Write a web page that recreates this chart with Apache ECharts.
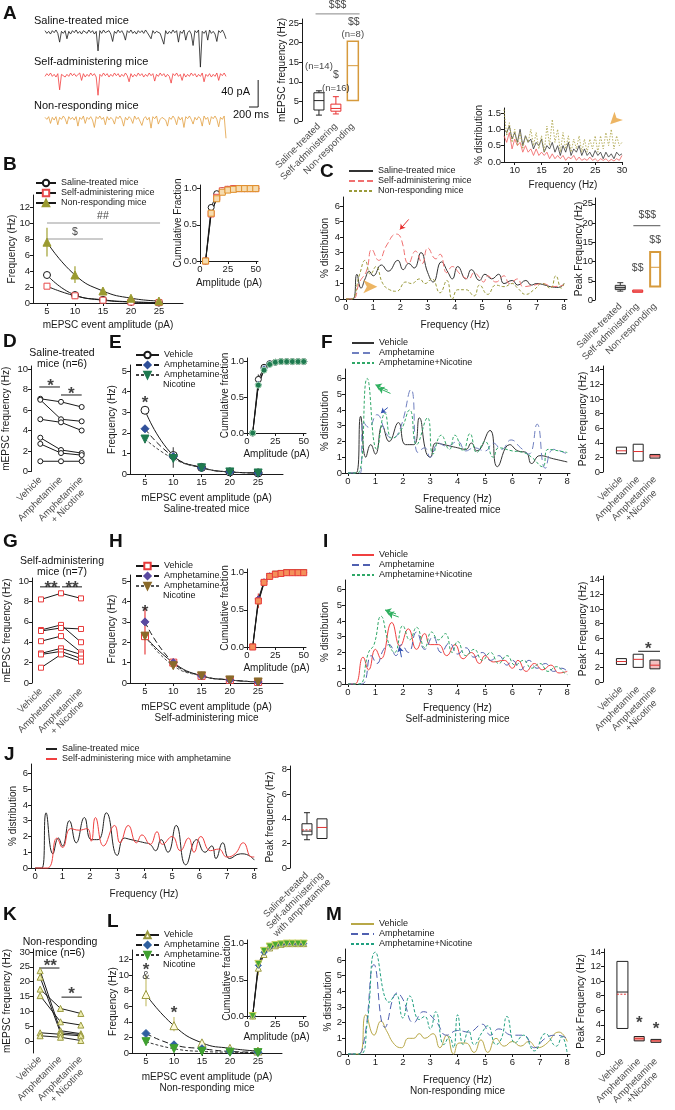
<!DOCTYPE html>
<html><head><meta charset="utf-8"><title>mEPSC figure</title>
<script src="https://cdn.jsdelivr.net/npm/echarts@6/dist/echarts.min.js"></script>
<style>html,body{margin:0;padding:0;background:#fff;}#chart{width:675px;height:1110px;}</style>
</head><body><div id="chart"></div>
<script>
// ======================= DATA =======================
// Panel A: raw traces (pA, one sample per 40 ms)
const traceSaline = [2,-2,1,-3,2,-1,3,-2,-15,1, -2,2,-10,1,-3,2,-1,3,-2,1, -3,2,0,-2,3,-1,2,-3,1,-28, 2,-2,3,-1,-2,2,-3,-14,1,-2, 3,-1,2,-3,-12,2,-1,3,-2,1, -3,2,-1,2,-2,3,-1,-3,-10,2, -2,1,3,-2,-1,-18,2,-3,1,-2, 3,-1,2,-15,1,-2,3,-12,-1,2, -3,-20,2,-1,3,-52,1,-2,2,-12, 3,-2,1,-3,-14,2,-1,3,-2,-10];
const traceSelfAdmin = [-2,2,-1,3,-2,1,-3,2,-22,1, 2,-3,1,-2,3,-1,2,-2,-1,3, -8,2,-3,1,-2,3,-1,2,-3,-30, 1,-2,3,-1,2,-3,1,-2,3,-1, 2,-3,1,-2,3,-1,-10,2,-3,1, -2,3,-1,2,-3,1,-2,3,-1,2, -9,1,-2,3,-1,2,-3,1,-2,-12, 2,-1,3,-2,1,-8,2,-3,1,-2, 3,-1,2,-3,1,-2,3,-10,1,-2, 2,-3,1,-2,3,-8,2,-1,3,-2];
const traceNonResp = [1,-2,2,-8,1,-3,2,-10,1,-2, 3,-1,-9,2,-2,1,-3,2,-12,1, -2,3,-8,1,-2,2,-3,-14,2,-1, 3,-2,1,-10,2,-3,1,-2,-9,2, -1,3,-2,-12,1,-3,2,-1,-8,3, -2,1,3,-11,-1,2,-3,1,-15,2, -1,3,-9,-2,1,2,-3,-12,1,-2, 3,-1,-10,2,-3,1,-14,2,-1,3, -2,-9,1,-3,2,-1,-12,3,-2,1, -10,2,-1,3,-2,-13,1,-2,3,-30];
const scaleBarMs = 200, scaleBarPa = 40, sampleMs = 40;
const groupCats = ['Saline-treated','Self-administering','Non-responding'];
const boxA = [[1.5,2.8,5.2,7.2,7.7],[1.8,2.5,3.2,4.3,6.2],[null,5.2,14.1,20.3,null]];

// Panel C inset: 8-30 Hz spectrum
const insetFreq = [8,8.5,9,9.5,10,10.5,11,11.5,12,12.5,13,13.5,14,14.5,15,15.5,16,16.5,17,17.5,18,18.5,19,19.5,20,20.5,21,21.5,22,22.5,23,23.5,24,24.5,25,25.5,26,26.5,27,27.5,28,28.5,29,29.5,30];
const insetSaline = [1.0,0.9,1.1,0.7,0.9,0.6,1.0,0.5,0.8,0.6,0.7,0.4,0.6,0.5,0.7,0.3,0.5,0.4,0.6,0.3,0.5,0.2,0.5,0.3,0.6,0.2,0.4,0.3,0.5,0.2,0.4,0.2,0.3,0.15,0.35,0.2,0.3,0.1,0.3,0.15,0.25,0.1,0.3,0.2,0.25];
const insetSelf = [0.8,0.6,0.9,0.4,0.7,0.5,0.6,0.3,0.5,0.3,0.4,0.2,0.4,0.2,0.3,0.2,0.3,0.1,0.25,0.1,0.2,0.1,0.2,0.05,0.15,0.1,0.2,0.05,0.15,0.05,0.1,0.05,0.15,0.05,0.1,0.02,0.1,0.05,0.1,0.02,0.08,0.03,0.1,0.05,0.2];
const insetNon = [1.6,0.8,1.2,0.6,1.0,0.5,0.9,0.4,0.8,0.6,1.0,0.5,0.9,0.4,0.8,0.3,1.1,0.5,1.3,0.6,1.0,0.3,0.9,0.4,0.8,0.3,0.7,0.4,0.8,0.3,0.7,0.3,0.7,0.4,0.8,0.3,0.8,0.4,0.9,0.5,1.0,0.4,0.8,0.5,0.6];

// Amplitude distributions
const amps = [5,10,15,20,25];
const cumAmps = [5,10,15,20,25,30,35,40,45,50];
const bSaline = [3.5,1.0,0.4,0.15,0.05];
const bSelf = [2.1,0.9,0.35,0.12,0.05];
const bNon = [7.6,3.5,1.5,0.6,0.25];
const bNonLo = [5.8,2.5,1.2,0.45,0.15];
const bNonHi = [9.4,4.6,1.8,0.75,0.35];
const bCumSaline = [0,0.74,0.93,0.97,0.99,1,1,1,1,1];
const bCumSelf = [0,0.65,0.88,0.97,0.99,1,1,1,1,1];
const bCumNon = [0,0.66,0.86,0.95,0.98,0.99,1,1,1,1];

// Panel C spectra (Hz, %)
const cSaline = [[0,0],[0.25,0],[0.4,1.6],[0.55,0.7],[0.7,1.3],[0.85,1.8],[1.0,1.5],[1.3,2.2],[1.55,1.8],[1.9,2.5],[2.1,1.9],[2.3,2.3],[2.5,2.0],[2.75,3.0],[3.0,1.7],[3.2,1.1],[3.5,2.4],[3.75,1.7],[3.9,1.3],[4.1,2.1],[4.4,1.3],[4.6,1.9],[4.9,1.2],[5.1,1.6],[5.35,1.3],[5.6,1.6],[5.8,1.0],[6.1,1.2],[6.3,0.9],[6.6,1.2],[6.8,0.9],[7.0,1.0],[7.3,0.9],[7.5,0.8],[7.8,0.75],[8.0,1.0]];
const cSelf = [[0,0],[0.25,0],[0.5,1.1],[0.75,1.8],[0.95,3.2],[1.2,2.5],[1.5,3.5],[1.85,4.2],[2.0,4.0],[2.3,2.3],[2.55,3.1],[2.8,2.3],[3.0,3.3],[3.3,2.6],[3.45,2.9],[3.7,1.7],[3.9,2.1],[4.2,1.6],[4.5,1.3],[4.7,1.7],[4.9,1.4],[5.05,1.1],[5.2,1.5],[5.5,1.1],[5.8,1.5],[6.0,1.0],[6.3,1.3],[6.5,0.8],[6.9,0.9],[7.2,1.0],[7.6,0.8],[8.0,0.9]];
const cNon = [[0,0],[0.2,0],[0.5,1.6],[0.7,2.5],[0.9,1.6],[1.1,2.1],[1.35,1.0],[1.6,0.6],[1.85,0.5],[2.2,1.1],[2.4,1.0],[2.7,1.3],[2.9,1.0],[3.15,1.3],[3.45,0.4],[3.7,1.2],[3.9,0.0],[4.1,0.6],[4.4,0.6],[4.7,0.2],[4.9,0.9],[5.2,0.3],[5.5,0.9],[5.8,0.8],[6.1,1.0],[6.3,0.7],[6.6,0.3],[6.9,0.6],[7.2,1.0],[7.5,0.7],[7.7,1.5],[7.9,0.7],[8.0,1.0]];
const boxC = [[2.3,2.7,3.2,3.8,4.5],[null,2.0,2.3,2.6,null],[null,3.5,8.5,12.5,null]];

// Panels D, G, K: paired mice
const treatCats = ['Vehicle','Amphetamine','Amphetamine\n+ Nicotine'];
const treatCatsBox = ['Vehicle','Amphetamine','Amphetamine\n+Nicotine'];
const dMice = [[7.1,6.8,6.3],[7.0,5.1,4.9],[5.1,4.8,4.0],[3.3,2.1,1.8],[2.7,1.8,1.6],[1.0,1.0,1.0]];
const gMice = [[8.2,8.8,8.3],[5.2,5.7,4.0],[5.1,5.4,5.3],[4.1,4.6,3.0],[2.9,3.4,2.8],[2.8,3.1,2.4],[1.5,2.8,2.1]];
const kMice = [[23.7,3.5,2.5],[21.5,2.8,2.2],[17.5,11.0,9.3],[15.3,6.5,5.4],[2.8,2.3,1.8],[1.8,1.3,0.2]];

// Panel E (saline-treated)
const eVeh = [3.1,0.9,0.32,0.1,0.05];
const eAmph = [2.2,0.85,0.3,0.1,0.05];
const eNic = [1.7,0.75,0.3,0.1,0.05];
const eVehLo = [2.9,0.7,0.25,0.08,0.04], eVehHi = [3.3,1.1,0.38,0.12,0.06];
const eNicLo = [1.5,0.3,0.25,0.08,0.04], eNicHi = [1.9,1.3,0.35,0.12,0.06];
const eCumVeh = [0,0.75,0.92,0.97,0.99,1,1,1,1,1];
const eCumAmph = [0,0.68,0.9,0.97,0.99,1,1,1,1,1];
const eCumNic = [0,0.67,0.88,0.96,0.99,1,1,1,1,1];

// Panel F spectra (saline-treated)
const fVeh = [[0,0],[0.3,0],[0.46,3.6],[0.65,1.0],[0.83,1.8],[1.0,1.2],[1.25,3.0],[1.5,2.0],[1.84,3.2],[2.1,1.8],[2.4,1.8],[2.6,3.5],[2.85,1.3],[3.0,1.0],[3.2,1.9],[3.5,1.8],[4.0,1.6],[4.3,1.5],[4.5,1.9],[4.7,1.4],[5.18,2.7],[5.45,0.4],[5.9,1.8],[6.2,1.4],[6.5,1.3],[6.7,0.6],[7.0,1.1],[7.5,0.9],[8.0,0.7]];
const fAmph = [[0,0],[0.45,0],[0.55,3.3],[0.75,2.9],[1.05,3.7],[1.4,2.5],[1.6,2.2],[1.9,2.8],[2.3,5.3],[2.55,1.3],[2.8,1.6],[3.0,1.0],[3.3,1.9],[3.6,1.7],[4.0,2.0],[4.3,1.4],[4.6,1.6],[5.0,1.4],[5.3,1.9],[5.6,1.5],[5.95,2.1],[6.3,1.6],[6.6,1.2],[6.9,3.1],[7.2,0.3],[7.5,1.5],[8.0,1.2]];
const fNic = [[0,0],[0.35,0],[0.7,6.0],[1.05,1.5],[1.35,3.8],[1.6,2.2],[1.9,2.6],[2.25,4.0],[2.5,1.8],[2.9,3.5],[3.1,1.2],[3.4,2.4],[3.7,1.5],[3.9,2.4],[4.2,1.4],[4.45,2.5],[4.7,1.3],[5.0,2.0],[5.3,1.0],[5.5,1.6],[6.0,1.4],[6.4,1.3],[6.7,1.0],[7.1,0.4],[7.3,1.5],[7.7,1.4],[8.0,1.3]];
const boxF = [[null,2.5,2.9,3.4,null],[null,1.5,2.8,3.8,null],[null,1.9,2.2,2.4,null]];

// Panel H (self-administering)
const hVeh = [2.3,1.0,0.35,0.15,0.05];
const hAmph = [3.0,1.0,0.35,0.15,0.05];
const hNic = [2.3,0.85,0.35,0.15,0.05];
const hErrLo = [1.4,0.75,0.3,0.12,0.04], hErrHi = [3.7,1.2,0.42,0.18,0.07];
const hCumVeh = [0,0.62,0.87,0.95,0.98,0.99,1,1,1,1];
const hCumAmph = [0,0.65,0.88,0.96,0.98,0.99,1,1,1,1];
const hCumNic = [0,0.6,0.86,0.95,0.98,0.99,1,1,1,1];

// Panel I spectra (self-administering)
const iVeh = [[0,0],[0.25,0],[0.55,1.7],[0.75,0.9],[1.0,2.2],[1.2,1.6],[1.6,3.9],[1.9,2.4],[2.2,3.5],[2.5,2.2],[2.8,3.2],[3.0,2.5],[3.3,2.5],[3.6,1.8],[3.9,2.5],[4.2,1.6],[4.5,2.0],[4.8,1.3],[5.0,1.8],[5.3,1.4],[5.7,1.5],[6.0,1.0],[6.2,1.5],[6.5,0.8],[6.8,1.3],[7.1,0.9],[7.4,1.2],[7.7,0.7],[8.0,0.8]];
const iAmph = [[0,0],[0.5,0],[0.85,1.8],[1.05,1.3],[1.3,2.2],[1.5,2.5],[1.75,1.8],[1.95,2.5],[2.2,2.0],[2.5,3.3],[2.8,2.2],[3.1,3.0],[3.4,2.0],[3.7,2.6],[4.0,1.9],[4.3,2.3],[4.6,1.7],[4.9,2.0],[5.2,1.5],[5.5,1.8],[5.8,1.2],[6.0,1.5],[6.3,0.9],[6.6,1.5],[6.9,1.0],[7.2,1.3],[7.5,0.8],[7.8,1.0],[8.0,0.8]];
const iNic = [[0,0],[0.4,0],[0.75,2.0],[0.95,2.5],[1.2,4.3],[1.5,2.5],[1.7,2.0],[2.0,3.7],[2.25,2.8],[2.5,3.6],[2.8,2.3],[3.05,3.3],[3.3,2.8],[3.55,3.2],[3.8,2.0],[4.0,2.7],[4.3,1.8],[4.6,2.2],[4.9,1.5],[5.2,2.0],[5.5,1.3],[5.8,1.8],[6.1,1.2],[6.4,1.5],[6.7,1.0],[7.0,1.3],[7.3,0.8],[7.6,1.1],[7.9,0.7],[8.0,0.6]];
const boxI = [[null,2.4,2.8,3.2,null],[null,2.0,3.1,3.8,null],[null,1.8,2.3,3.0,null]];

// Panel J
const jCats = ['Saline-treated','Self-administering\nwith amphetamine'];
const jSaline = [[0,0],[0.25,0],[0.4,3.5],[0.65,0.9],[0.85,1.9],[1.0,1.4],[1.25,3.0],[1.5,1.6],[1.8,3.2],[2.05,1.8],[2.3,1.8],[2.6,3.5],[3.0,0.8],[3.25,1.9],[3.5,1.8],[4.0,1.6],[4.2,1.5],[4.4,1.1],[4.6,1.8],[4.85,1.0],[5.15,2.7],[5.5,0.2],[5.9,1.8],[6.2,1.0],[6.45,1.4],[6.6,0.6],[6.85,1.6],[7.1,0.6],[7.5,0.9],[7.8,0.8],[8.0,0.5]];
const jSelfAmph = [[0,0],[0.45,0],[0.8,1.9],[1.0,1.3],[1.3,2.5],[1.6,2.4],[1.9,2.5],[2.05,1.7],[2.2,3.2],[2.5,1.4],[2.9,2.7],[3.1,1.6],[3.4,2.7],[3.7,1.6],[3.9,2.1],[4.2,1.5],[4.45,2.3],[4.65,1.5],[5.0,2.0],[5.3,1.1],[5.6,1.9],[5.8,1.0],[6.05,2.0],[6.4,1.1],[6.7,1.2],[7.0,0.7],[7.3,0.9],[7.6,1.6],[7.9,0.7],[8.0,0.7]];
const boxJ = [[2.3,2.7,3.0,3.6,4.5],[null,2.4,3.3,4.0,null]];
const boxJMean = [3.1,null];

// Panel L (non-responding)
const lVeh = [7.5,3.5,1.3,0.6,0.25];
const lAmph = [2.5,1.05,0.55,0.2,0.1];
const lNic = [1.45,0.55,0.2,0.1,0.05];
const lVehLo = [6.0,2.8,1.0,0.45,0.18], lVehHi = [10.0,4.6,1.6,0.75,0.32];
const lCumVeh = [0,0.66,0.85,0.94,0.97,0.99,1,1,1,1];
const lCumAmph = [0,0.7,0.88,0.95,0.98,0.99,1,1,1,1];
const lCumNic = [0,0.72,0.9,0.96,0.98,0.99,1,1,1,1];

// Panel M spectra (non-responding)
const mVeh = [[0,0],[0.4,0],[0.65,2.5],[0.95,1.2],[1.2,2.1],[1.4,1.5],[1.7,0.6],[1.95,0.4],[2.2,1.0],[2.4,1.0],[2.6,1.3],[2.8,1.0],[3.1,1.3],[3.35,0.4],[3.6,1.2],[3.85,0.0],[4.05,0.7],[4.3,0.7],[4.6,0.1],[4.85,0.9],[5.1,0.1],[5.4,1.0],[5.7,0.5],[6.0,0.8],[6.3,0.5],[6.6,0.8],[6.9,0.4],[7.2,0.6],[7.7,1.4],[8.0,0.8]];
const mAmph = [[0,0],[0.35,0],[0.6,1.0],[0.95,5.7],[1.35,1.7],[1.8,3.9],[2.0,3.5],[2.4,2.0],[2.75,2.7],[3.2,2.1],[3.6,1.2],[4.0,1.5],[4.4,1.4],[4.9,1.9],[5.2,1.2],[5.5,1.6],[6.0,1.2],[6.4,1.2],[6.8,0.4],[7.2,1.0],[7.6,1.2],[8.0,1.0]];
const mNic = [[0,0],[0.45,0],[0.7,2.0],[1.0,6.5],[1.5,3.3],[1.75,3.8],[2.0,2.3],[2.25,3.7],[2.6,2.2],[2.8,2.4],[3.0,1.6],[3.2,2.7],[3.5,0.6],[3.7,1.1],[3.85,0.4],[4.0,2.5],[4.2,0.6],[4.4,1.5],[4.6,0.6],[4.9,1.4],[5.1,1.8],[5.4,0.6],[5.6,1.0],[5.8,2.4],[6.1,0.7],[6.4,1.2],[6.8,0.2],[7.2,1.3],[7.6,0.5],[7.8,1.1],[8.0,0.0]];
const boxM = [[null,3.5,8.5,12.7,null],[null,1.8,2.1,2.4,null],[null,1.6,1.8,2.0,null]];
const boxMMean = [8.2,null,null];

// ======================= BUILD =======================
const FONT = '"Liberation Sans", Arial, Helvetica, sans-serif';
const INK = '#1a1a1a';
const TICK_FS = 9.5, NAME_FS = 10, LEG_FS = 9, CAT_LH = 10;
const grids = [], gridInfo = [], xAxis = [], yAxis = [], series = [], legend = [], graphic = [];
const measureCtx = document.createElement('canvas').getContext('2d');
measureCtx.font = TICK_FS + 'px ' + FONT;

function axisCfg(o){
  const a = {
    type:'value', min:o.min, max:o.max, show:o.show !== false,
    splitLine:{show:false},
    axisLine:{show:o.line !== false, onZero:false, lineStyle:{color:INK, width:1}},
    axisTick:{show:!!o.ticks && !o.noTick, length:3, inside:false, lineStyle:{color:INK}},
    axisLabel:{show:!!o.ticks, fontSize:TICK_FS, color:INK, fontFamily:FONT, margin:(o.margin != null ? o.margin : 3),
      lineHeight:10, hideOverlap:false, showMinLabel:true, showMaxLabel:true},
    name:o.name || '', nameLocation:'middle', nameGap:o.gap || 15, nameMoveOverlap:false,
    nameTextStyle:{fontSize:NAME_FS, color:INK, fontFamily:FONT, lineHeight:11}
  };
  if (o.ticks){ a.axisLabel.customValues = o.ticks; a.axisTick.customValues = o.ticks; }
  if (o.fmt) a.axisLabel.formatter = o.fmt;
  return a;
}
function addGrid(left, top, width, height, xo, yo){
  grids.push({left, top, width, height, containLabel:false});
  gridInfo.push({left, top, width, height, xmin:xo.min, xmax:xo.max, ymin:yo.min, ymax:yo.max});
  const gi = grids.length - 1;
  const xa = axisCfg(xo); xa.gridIndex = gi; xAxis.push(xa);
  const ya = axisCfg(yo); ya.gridIndex = gi; yAxis.push(ya);
  return gi;
}
function line(gi, name, data, o = {}){
  series.push({
    type:'line', name, xAxisIndex:gi, yAxisIndex:gi, data,
    showSymbol:!!o.symbol, symbol:o.symbol || 'none', symbolSize:o.size || 6, symbolRotate:o.rot || 0,
    smooth:o.smooth || false, clip:false, silent:true, animation:false, z:o.z || 3,
    lineStyle:{color:o.color || INK, width:o.width || 1, type:o.dash || 'solid'},
    itemStyle:{color:o.fill || '#fff', borderColor:o.border || o.color || INK, borderWidth:1}
  });
}
function txt(gi, x, y, text, o = {}){
  series.push({type:'scatter', xAxisIndex:gi, yAxisIndex:gi, data:[[x, y]], symbolSize:1,
    itemStyle:{color:'rgba(0,0,0,0)'}, clip:false, silent:true, z:10, animation:false,
    label:{show:true, position:'inside', formatter:text, fontSize:o.size || 10.5, fontFamily:FONT,
      color:o.color || '#111', fontWeight:o.bold ? 'bold' : 'normal',
      align:o.align || 'center', verticalAlign:'middle', rotate:o.rotate || 0, lineHeight:10}});
}
// rotated (45 deg) category labels under a plot, placed through the grid's own scale;
// first line ends at the category, following lines are centred under it
function catLabels(gi, cats, marginPx){
  const g = gridInfo[gi];
  const pxX = g.width / (g.xmax - g.xmin), pxY = g.height / (g.ymax - g.ymin);
  const y0 = g.ymin - marginPx / pxY;
  const c45 = Math.SQRT1_2;
  cats.forEach((c, i) => {
    const lines = c.split('\n');
    const w1 = measureCtx.measureText(lines[0]).width;
    lines.forEach((ln, k) => {
      const dx = -c45 * w1 / 2 + c45 * CAT_LH * k;
      const dy = c45 * w1 / 2 + c45 * CAT_LH * k;
      txt(gi, i + dx / pxX, y0 - dy / pxY, ln, {size:TICK_FS, align:'center', rotate:45, color:INK});
    });
  });
}
function star(gi, x, y, text){ txt(gi, x, y, text, {size:17, bold:true}); }
function sig(gi, x1, x2, y, color){ line(gi, 'sig', [[x1, y], [x2, y]], {color:color || INK, width:1}); }
function errs(gi, xs, lo, hi, color){
  series.push({type:'custom', xAxisIndex:gi, yAxisIndex:gi, silent:true, animation:false, z:2,
    data:xs.map((x, i) => [x, lo[i], hi[i]]), encode:{x:0, y:[1, 2]},
    renderItem:(p, api) => {
      const a = api.coord([api.value(0), api.value(1)]), b = api.coord([api.value(0), api.value(2)]);
      return {type:'line', shape:{x1:a[0], y1:a[1], x2:b[0], y2:b[1]}, style:{stroke:color, lineWidth:1.2}};
    }});
}
function boxes(gi, data, styles, means){
  series.push({type:'custom', xAxisIndex:gi, yAxisIndex:gi, silent:true, animation:false, clip:false, z:3,
    encode:{x:0, y:[1, 2, 3, 4, 5]},
    data:data.map((b, i) => [i, b[0], b[1], b[2], b[3], b[4], means ? means[i] : null]),
    renderItem:(p, api) => {
      const st = styles[p.dataIndex];
      const xi = api.value(0);
      const Y = v => api.coord([xi, v])[1];
      const cx = api.coord([xi, 0])[0];
      const h = st.w / 2, lw = st.lw || 1, stroke = st.stroke;
      const ok = v => v != null && !isNaN(v);
      const lo = api.value(1), q1 = api.value(2), md = api.value(3), q3 = api.value(4), hi = api.value(5), mn = api.value(6);
      const ch = [];
      if (ok(lo)){
        ch.push({type:'line', shape:{x1:cx, y1:Y(q1), x2:cx, y2:Y(lo)}, style:{stroke, lineWidth:lw}});
        ch.push({type:'line', shape:{x1:cx - h * 0.6, y1:Y(lo), x2:cx + h * 0.6, y2:Y(lo)}, style:{stroke, lineWidth:lw}});
      }
      if (ok(hi)){
        ch.push({type:'line', shape:{x1:cx, y1:Y(q3), x2:cx, y2:Y(hi)}, style:{stroke, lineWidth:lw}});
        ch.push({type:'line', shape:{x1:cx - h * 0.6, y1:Y(hi), x2:cx + h * 0.6, y2:Y(hi)}, style:{stroke, lineWidth:lw}});
      }
      ch.push({type:'rect', shape:{x:cx - h, y:Y(q3), width:st.w, height:Y(q1) - Y(q3)}, style:{fill:st.fill, stroke, lineWidth:lw}});
      if (ok(md)) ch.push({type:'line', shape:{x1:cx - h, y1:Y(md), x2:cx + h, y2:Y(md)}, style:{stroke:st.med, lineWidth:st.medW || 1}});
      if (ok(mn)) ch.push({type:'line', shape:{x1:cx - h, y1:Y(mn), x2:cx + h, y2:Y(mn)}, style:{stroke:'#e03030', lineWidth:1, lineDash:[2, 1.5]}});
      return {type:'group', children:ch};
    }});
}
function arrow(gi, from, to, color, size){
  series.push({type:'lines', coordinateSystem:'cartesian2d', xAxisIndex:gi, yAxisIndex:gi,
    symbol:['none', 'arrow'], symbolSize:size || 6, silent:true, animation:false, z:6,
    lineStyle:{color, width:1, opacity:1, curveness:0}, data:[{coords:[from, to]}]});
}
function arrowHead(gi, x, y, rot, color, size){
  series.push({type:'scatter', xAxisIndex:gi, yAxisIndex:gi, data:[[x, y]], symbol:'arrow', symbolSize:size,
    symbolRotate:rot, itemStyle:{color}, silent:true, clip:false, z:6, animation:false});
}
function leg(left, top, names, labels, w, lineOnly){
  const L = {left, top, orient:'vertical', itemWidth:w || 22, itemHeight:8, itemGap:0, padding:0,
    selectedMode:false, data:names, formatter:n => labels[names.indexOf(n)],
    textStyle:{fontSize:LEG_FS, fontFamily:FONT, color:INK, lineHeight:10}};
  if (lineOnly) L.itemStyle = {opacity:0};
  legend.push(L);
}
function gt(x, y, text, o = {}){
  graphic.push({type:'text', x, y, silent:true, z:100,
    style:{text, fill:o.color || '#111', font:(o.bold ? 'bold ' : '') + (o.size || 10.5) + 'px ' + FONT,
      align:o.align || 'left', verticalAlign:'middle', textAlign:o.align || 'left', textVerticalAlign:'middle'}});
}
const letter = (x, y, t) => gt(x, y, t, {bold:true, size:19});
const pairs = (xs, ys) => xs.map((x, i) => [x, ys[i]]);
const idxPairs = ys => ys.map((v, i) => [i, v]);
const oneDec = v => v.toFixed(1);
const CATX = (min, max) => ({min, max, line:false});

// ---------- Panel A ----------
letter(3, 14, 'A');
gt(34, 21, 'Saline-treated mice', {size:11});
gt(34, 62, 'Self-administering mice', {size:11});
gt(34, 106, 'Non-responding mice', {size:11});
[[traceSaline, '#1a1a1a', 21.9], [traceSelfAdmin, '#f23c3c', 64.9], [traceNonResp, '#e2a040', 107.9]].forEach(([arr, c, top], k) => {
  const gi = addGrid(45, top, 181, 50.6, {min:0, max:99, show:false}, {min:-60, max:15, show:false});
  line(gi, 'trace' + k, idxPairs(arr), {color:c, width:0.8});
});
const gSB = addGrid(249, 80, 181 / 99 * scaleBarMs / sampleMs, 27, {min:0, max:scaleBarMs, show:false}, {min:0, max:scaleBarPa, show:false});
line(gSB, 'scalebar', [[0, 0], [scaleBarMs, 0], [scaleBarMs, scaleBarPa]], {color:INK, width:1});
gt(250, 92, scaleBarPa + ' pA', {size:11, align:'right'});
gt(251, 115, scaleBarMs + ' ms', {size:11, align:'center'});

const gA = addGrid(302, 19, 61, 102, CATX(-1, 2.6),
  {min:0, max:26, ticks:[0, 5, 10, 15, 20, 25], name:'mEPSC frequency (Hz)', gap:14});
boxes(gA, boxA, [{stroke:'#222', fill:'#fff', med:'#222', w:10}, {stroke:'#e83030', fill:'#fff', med:'#e83030', w:10}, {stroke:'#d69a3c', fill:'#fff', med:'#d69a3c', w:11, lw:1.5}]);
catLabels(gA, groupCats, 4);
sig(gA, -0.2, 2.4, 27.3, '#888');
txt(gA, 1.1, 29.5, '$$$'); txt(gA, 2.06, 25.3, '$$'); txt(gA, 2, 22.2, '(n=8)', {size:9.5});
txt(gA, 0, 13.8, '(n=14)', {size:9.5}); txt(gA, 1, 11.7, '$'); txt(gA, 1, 8.2, '(n=16)', {size:9.5});

// ---------- C inset ----------
const gIn = addGrid(504, 108, 118, 54,
  {min:8, max:30, ticks:[10, 15, 20, 25, 30], name:'Frequency (Hz)', gap:18},
  {min:0, max:1.65, ticks:[0, 0.5, 1, 1.5], fmt:oneDec, name:'% distribution', gap:19});
line(gIn, 'inS', pairs(insetFreq, insetSaline), {color:'#333', width:0.8});
line(gIn, 'inR', pairs(insetFreq, insetSelf), {color:'#f06060', width:0.8});
line(gIn, 'inN', pairs(insetFreq, insetNon), {color:'#b0a850', width:0.9, dash:[1.5, 1.5]});
arrowHead(gIn, 27.8, 1.15, 135, '#e8a23c', [9, 12]);

// ---------- Panel B ----------
letter(3, 165, 'B');
const gB = addGrid(33, 195, 150, 108,
  {min:2.5, max:29.3, ticks:amps, name:'mEPSC event amplitude (pA)', gap:16.5},
  {min:0, max:13.5, ticks:[0, 2, 4, 6, 8, 10, 12], name:'Frequency (Hz)', gap:15});
sig(gB, 5, 25.2, 10, '#999'); sig(gB, 5, 15, 8, '#999');
txt(gB, 15, 10.9, '##'); txt(gB, 10, 8.9, '$');
errs(gB, amps, bNonLo, bNonHi, '#a0a030');
line(gB, 'B_sal', pairs(amps, bSaline), {symbol:'circle', size:7, color:INK, fill:'#fff', border:INK, smooth:true});
line(gB, 'B_self', pairs(amps, bSelf), {symbol:'rect', size:6, color:INK, fill:'#fff', border:'#e84a4a', smooth:true});
line(gB, 'B_non', pairs(amps, bNon), {symbol:'triangle', size:8, color:INK, fill:'#9a9a30', border:'#9a9a30', smooth:true});
leg(35, 178, ['B_sal', 'B_self', 'B_non'], ['Saline-treated mice', 'Self-administering mice', 'Non-responding mice'], 20);
const gBi = addGrid(200, 185, 58, 76,
  {min:0, max:52, ticks:[0, 25, 50], name:'Amplitude (pA)', gap:16.5},
  {min:0, max:1.05, ticks:[0, 0.5, 1], fmt:oneDec, name:'Cumulative Fraction', gap:16.5});
line(gBi, 'Bi1', pairs(cumAmps, bCumSaline), {symbol:'circle', size:6, color:INK, fill:'#fff', border:INK});
line(gBi, 'Bi2', pairs(cumAmps, bCumSelf), {symbol:'rect', size:6, color:INK, fill:'#fff', border:'#e84a4a'});
line(gBi, 'Bi3', pairs(cumAmps, bCumNon), {symbol:'rect', size:6, color:INK, fill:'#f6dcb0', border:'#e0902a'});

// ---------- Panel C ----------
letter(320, 172, 'C');
const gC = addGrid(343, 197, 224, 102,
  {min:-0.11, max:8.11, ticks:[0, 1, 2, 3, 4, 5, 6, 7, 8], name:'Frequency (Hz)', gap:20.5},
  {min:0, max:6.6, ticks:[0, 1, 2, 3, 4, 5, 6], name:'% distribution', gap:12.5});
line(gC, 'C_sal', cSaline, {color:'#333', width:1, smooth:0.5});
line(gC, 'C_self', cSelf, {color:'#f07070', width:1, dash:[6, 3], smooth:0.5});
line(gC, 'C_non', cNon, {color:'#9a9a3a', width:1, dash:[3, 2], smooth:0.5});
arrow(gC, [2.3, 5.15], [1.98, 4.5], '#e83030', 5);
arrowHead(gC, 1.15, 0.8, -90, '#e8a23c', [10, 14]);
leg(348, 166, ['C_sal', 'C_self', 'C_non'], ['Saline-treated mice', 'Self-administering mice', 'Non-responding mice'], 24, true);
const gCb = addGrid(595, 198, 70.6, 102, CATX(-1.45, 2.6),
  {min:0, max:26.5, ticks:[0, 5, 10, 15, 20, 25], name:'Peak Frequency (Hz)', gap:10, margin:2});
boxes(gCb, boxC, [{stroke:'#333', fill:'#c8c8c8', med:'#222', w:10}, {stroke:'#e83030', fill:'#f6a8a8', med:'#e83030', w:10}, {stroke:'#d69a3c', fill:'#fff', med:'#d69a3c', w:10, lw:2}]);
catLabels(gCb, groupCats, 5);
sig(gCb, 0.75, 2.3, 19.3, '#555');
txt(gCb, 1.55, 22.1, '$$$'); txt(gCb, 2, 15.6, '$$'); txt(gCb, 1, 8.3, '$$');

// ---------- Panel D ----------
letter(3, 342, 'D');
gt(62, 353, 'Saline-treated', {align:'center'}); gt(62, 364, 'mice (n=6)', {align:'center'});
const gD = addGrid(31, 366, 60, 105.5, CATX(-0.45, 2.45),
  {min:0, max:10.3, ticks:[0, 2, 4, 6, 8, 10], name:'mEPSC frequency (Hz)', gap:19});
dMice.forEach((m, k) => line(gD, 'D' + k, idxPairs(m), {symbol:'circle', size:5, color:INK, fill:'#fff', border:INK}));
catLabels(gD, treatCats, 7);
sig(gD, -0.05, 0.95, 8.25); star(gD, 0.5, 8.3, '*');
sig(gD, 1.0, 2.0, 7.47); star(gD, 1.5, 7.55, '*');

// ---------- Panel E ----------
letter(109, 343, 'E');
const gE = addGrid(130, 365, 153, 109,
  {min:2.35, max:29.4, ticks:amps, name:'mEPSC event amplitude (pA)\nSaline-treated mice', gap:18.5},
  {min:0, max:5.3, ticks:[0, 1, 2, 3, 4, 5], name:'Frequency (Hz)', gap:12});
errs(gE, amps, eVehLo, eVehHi, '#555');
errs(gE, amps, eNicLo, eNicHi, '#555');
line(gE, 'E_veh', pairs(amps, eVeh), {symbol:'circle', size:8, color:INK, fill:'#fff', border:INK, smooth:true});
line(gE, 'E_amph', pairs(amps, eAmph), {symbol:'diamond', size:8, color:INK, fill:'#30509a', border:'#30509a', dash:[6, 3], smooth:true});
line(gE, 'E_nic', pairs(amps, eNic), {symbol:'triangle', rot:180, size:8, color:'#444', fill:'#1f7a50', border:'#1f7a50', dash:[3, 2], smooth:true});
star(gE, 5, 3.45, '*');
leg(135, 350, ['E_veh', 'E_amph', 'E_nic'], ['Vehicle', 'Amphetamine', 'Amphetamine-'], 23);
gt(163, 385, 'Nicotine', {size:LEG_FS});
const gEi = addGrid(247, 358, 59, 75,
  {min:0, max:52, ticks:[0, 25, 50], name:'Amplitude (pA)', gap:16},
  {min:0, max:1.05, ticks:[0, 0.5, 1], fmt:oneDec, name:'Cumulative fraction', gap:16});
errs(gEi, [10], [0.6], [0.82], '#444');
line(gEi, 'Ei1', pairs(cumAmps, eCumVeh), {symbol:'circle', size:6, color:INK, fill:'#fff', border:INK});
line(gEi, 'Ei2', pairs(cumAmps, eCumAmph), {symbol:'diamond', size:6, color:INK, fill:'#30509a', border:'#30509a'});
line(gEi, 'Ei3', pairs(cumAmps, eCumNic), {symbol:'circle', size:6, color:INK, fill:'#1f7a50', border:'#a8d8b8'});

// ---------- Panel F ----------
letter(321, 343, 'F');
const gF = addGrid(345, 369, 225, 104,
  {min:-0.11, max:8.1, ticks:[0, 1, 2, 3, 4, 5, 6, 7, 8], name:'Frequency (Hz)\nSaline-treated mice', gap:20.5},
  {min:0, max:6.6, ticks:[0, 1, 2, 3, 4, 5, 6], name:'% distribution', gap:14.5});
line(gF, 'F_veh', fVeh, {color:'#333', width:1, smooth:0.5});
line(gF, 'F_amph', fAmph, {color:'#7080c0', width:1, dash:[7, 4], smooth:0.5});
line(gF, 'F_nic', fNic, {color:'#30a868', width:1, dash:[3, 2], smooth:0.5});
arrow(gF, [1.45, 5.25], [1.0, 5.6], '#30b060', 6);
arrow(gF, [1.55, 5.05], [1.1, 5.4], '#30b060', 6);
arrow(gF, [1.45, 4.15], [1.2, 3.8], '#3050b0', 5);
leg(351, 338, ['F_veh', 'F_amph', 'F_nic'], ['Vehicle', 'Amphetamine', 'Amphetamine+Nicotine'], 22, true);
const boxStyleTreat = [{stroke:'#222', fill:'#fff', med:'#e03030', w:10}, {stroke:'#222', fill:'#fff', med:'#e03030', w:10}, {stroke:'#222', fill:'#f4c0c0', med:'#e03030', w:10}];
const gFb = addGrid(603, 366, 62, 106, CATX(-1.1, 2.6),
  {min:0, max:14.5, ticks:[0, 2, 4, 6, 8, 10, 12, 14], name:'Peak Frequency (Hz)', gap:14.5});
boxes(gFb, boxF, boxStyleTreat);
catLabels(gFb, treatCatsBox, 6);

// ---------- Panel G ----------
letter(3, 542, 'G');
gt(62, 561, 'Self-administering', {align:'center'}); gt(62, 572, 'mice (n=7)', {align:'center'});
const gG = addGrid(32, 578, 58, 105, CATX(-0.45, 2.45),
  {min:0, max:10.3, ticks:[0, 2, 4, 6, 8, 10], name:'mEPSC frequency (Hz)', gap:19});
gMice.forEach((m, k) => line(gG, 'G' + k, idxPairs(m), {symbol:'rect', size:5, color:INK, fill:'#fff', border:'#e83a3a'}));
catLabels(gG, treatCats, 7);
sig(gG, -0.05, 0.95, 9.43); star(gG, 0.5, 9.3, '**');
sig(gG, 1.05, 2.05, 9.43); star(gG, 1.55, 9.3, '**');

// ---------- Panel H ----------
letter(109, 542, 'H');
const gH = addGrid(130, 575, 153, 108,
  {min:2.35, max:29.4, ticks:amps, name:'mEPSC event amplitude (pA)\nSelf-administering mice', gap:18.5},
  {min:0, max:5.3, ticks:[0, 1, 2, 3, 4, 5], name:'Frequency (Hz)', gap:12});
errs(gH, amps, hErrLo, hErrHi, '#e84040');
line(gH, 'H_veh', pairs(amps, hVeh), {symbol:'rect', size:7, color:INK, fill:'#fff', border:'#e83a3a', smooth:true});
line(gH, 'H_amph', pairs(amps, hAmph), {symbol:'diamond', size:8, color:INK, fill:'#5a4aa0', border:'#5a4aa0', dash:[6, 3], smooth:true});
line(gH, 'H_nic', pairs(amps, hNic), {symbol:'triangle', rot:180, size:8, color:'#555', fill:'#8a6a2a', border:'#8a6a2a', dash:[3, 2], smooth:true});
star(gH, 5, 3.45, '*');
leg(135, 561, ['H_veh', 'H_amph', 'H_nic'], ['Vehicle', 'Amphetamine', 'Amphetamine-'], 23);
gt(163, 596, 'Nicotine', {size:LEG_FS});
const gHi = addGrid(247, 569, 59, 78,
  {min:0, max:52, ticks:[0, 25, 50], name:'Amplitude (pA)', gap:16},
  {min:0, max:1.05, ticks:[0, 0.5, 1], fmt:oneDec, name:'Cumulative fraction', gap:16});
errs(gHi, [10], [0.52], [0.72], '#e84040');
line(gHi, 'Hi2', pairs(cumAmps, hCumAmph), {symbol:'diamond', size:6, color:INK, fill:'#5a4aa0', border:'#5a4aa0'});
line(gHi, 'Hi3', pairs(cumAmps, hCumNic), {symbol:'triangle', rot:180, size:6, color:INK, fill:'#8a6a2a', border:'#8a6a2a'});
line(gHi, 'Hi1', pairs(cumAmps, hCumVeh), {symbol:'rect', size:6, color:INK, fill:'#f4905a', border:'#e83a3a'});

// ---------- Panel I ----------
letter(323, 542, 'I');
const gI = addGrid(345, 580, 225, 104,
  {min:-0.11, max:8.1, ticks:[0, 1, 2, 3, 4, 5, 6, 7, 8], name:'Frequency (Hz)\nSelf-administering mice', gap:18.5},
  {min:0, max:6.6, ticks:[0, 1, 2, 3, 4, 5, 6], name:'% distribution', gap:14.5});
line(gI, 'I_veh', iVeh, {color:'#f04040', width:1, smooth:0.5});
line(gI, 'I_amph', iAmph, {color:'#5060b0', width:1, dash:[7, 4], smooth:0.5});
line(gI, 'I_nic', iNic, {color:'#30a868', width:1, dash:[3, 2], smooth:0.5});
arrow(gI, [1.75, 4.45], [1.35, 4.7], '#30b060', 6);
arrow(gI, [1.85, 4.25], [1.45, 4.5], '#30b060', 6);
arrow(gI, [1.95, 1.7], [1.88, 2.35], '#3050b0', 5);
leg(351, 550, ['I_veh', 'I_amph', 'I_nic'], ['Vehicle', 'Amphetamine', 'Amphetamine+Nicotine'], 22, true);
const gIb = addGrid(603, 576, 62, 106, CATX(-1.1, 2.6),
  {min:0, max:14.5, ticks:[0, 2, 4, 6, 8, 10, 12, 14], name:'Peak Frequency (Hz)', gap:14.5});
boxes(gIb, boxI, boxStyleTreat);
catLabels(gIb, treatCatsBox, 6);
sig(gIb, 1, 2.3, 4.2); star(gIb, 1.6, 4.5, '*');

// ---------- Panel J ----------
letter(4, 755, 'J');
const gJ = addGrid(31, 764, 226, 104,
  {min:-0.15, max:8.1, ticks:[0, 1, 2, 3, 4, 5, 6, 7, 8], name:'Frequency (Hz)', gap:20.5},
  {min:0, max:6.6, ticks:[0, 1, 2, 3, 4, 5, 6], name:'% distribution', gap:12.5});
line(gJ, 'J_sal', jSaline, {color:'#222', width:1, smooth:0.5});
line(gJ, 'J_self', jSelfAmph, {color:'#f04040', width:1, smooth:0.5});
leg(45, 744, ['J_sal', 'J_self'], ['Saline-treated mice', 'Self-administering mice with amphetamine'], 11, true);
const gJb = addGrid(290, 766, 41, 102, CATX(-1.13, 1.6),
  {min:0, max:8.3, ticks:[0, 2, 4, 6, 8], name:'Peak frequency (Hz)', gap:14.5});
boxes(gJb, boxJ, [{stroke:'#222', fill:'#fff', med:'#222', w:10}, {stroke:'#222', fill:'#fff', med:'#e03030', w:10}], boxJMean);
catLabels(gJb, jCats, 6);

// ---------- Panel K ----------
letter(3, 915, 'K');
gt(60, 942, 'Non-responding', {align:'center'}); gt(60, 953, 'mice (n=6)', {align:'center'});
const gK = addGrid(33, 949, 57, 104, CATX(-0.35, 2.45),
  {min:-4, max:31, ticks:[0, 5, 10, 15, 20, 25, 30], name:'mEPSC frequency (Hz)', gap:20});
kMice.forEach((m, k) => line(gK, 'K' + k, idxPairs(m), {symbol:'triangle', size:6, color:INK, fill:'#eeeeb0', border:'#9a9a40'}));
catLabels(gK, treatCats, 5);
sig(gK, -0.05, 0.95, 24.6); star(gK, 0.5, 25.3, '**');
sig(gK, 1.05, 2.05, 14.8); star(gK, 1.55, 15.6, '*');

// ---------- Panel L ----------
letter(107, 922, 'L');
const gL = addGrid(132, 950, 150, 103,
  {min:2.5, max:29.3, ticks:amps, name:'mEPSC event amplitude (pA)\nNon-responding mice', gap:18.5},
  {min:0, max:13.2, ticks:[0, 2, 4, 6, 8, 10, 12], name:'Frequency (Hz)', gap:13.5});
errs(gL, amps, lVehLo, lVehHi, '#c8c070');
line(gL, 'L_veh', pairs(amps, lVeh), {symbol:'triangle', size:8, color:INK, fill:'#fffbe0', border:'#9a9a40', smooth:true});
line(gL, 'L_amph', pairs(amps, lAmph), {symbol:'diamond', size:8, color:INK, fill:'#3060a0', border:'#3060a0', dash:[6, 3], smooth:true});
line(gL, 'L_nic', pairs(amps, lNic), {symbol:'triangle', rot:180, size:8, color:'#333', fill:'#40a030', border:'#40a030', dash:[3, 2], smooth:true});
star(gL, 5, 10.6, '*'); txt(gL, 5, 9.9, '&', {size:11});
star(gL, 10, 5.1, '*');
leg(135, 930, ['L_veh', 'L_amph', 'L_nic'], ['Vehicle', 'Amphetamine', 'Amphetamine-'], 23);
gt(163, 965, 'Nicotine', {size:LEG_FS});
const gLi = addGrid(247, 940, 59, 76,
  {min:0, max:52, ticks:[0, 25, 50], name:'Amplitude (pA)', gap:15.5},
  {min:0, max:1.05, ticks:[0, 0.5, 1], fmt:oneDec, name:'Cumulative fraction', gap:14.5});
errs(gLi, [10], [0.56], [0.76], '#c8c070');
line(gLi, 'Li1', pairs(cumAmps, lCumVeh), {symbol:'triangle', size:6, color:INK, fill:'#fffbe0', border:'#9a9a40'});
line(gLi, 'Li2', pairs(cumAmps, lCumAmph), {symbol:'diamond', size:6, color:INK, fill:'#3060a0', border:'#3060a0'});
line(gLi, 'Li3', pairs(cumAmps, lCumNic), {symbol:'triangle', rot:180, size:7, color:INK, fill:'#48a830', border:'#c8d060'});

// ---------- Panel M ----------
letter(326, 915, 'M');
const gM = addGrid(345, 949, 225, 105,
  {min:-0.11, max:8.1, ticks:[0, 1, 2, 3, 4, 5, 6, 7, 8], name:'Frequency (Hz)\nNon-responding mice', gap:20.5},
  {min:0, max:6.7, ticks:[0, 1, 2, 3, 4, 5, 6], name:'% distribution', gap:11.5});
line(gM, 'M_veh', mVeh, {color:'#b8a848', width:1, smooth:0.5});
line(gM, 'M_amph', mAmph, {color:'#5060b0', width:1, dash:[7, 4], smooth:0.5});
line(gM, 'M_nic', mNic, {color:'#20a080', width:1, dash:[3, 2], smooth:0.5});
leg(350, 919, ['M_veh', 'M_amph', 'M_nic'], ['Vehicle', 'Amphetamine', 'Amphetamine+Nicotine'], 23, true);
const gMb = addGrid(604, 949, 62, 105, CATX(-1.1, 2.6),
  {min:0, max:14.4, ticks:[0, 2, 4, 6, 8, 10, 12, 14], name:'Peak Frequency (Hz)', gap:17.5});
boxes(gMb, boxM, [{stroke:'#222', fill:'#fff', med:'#222', w:11}, {stroke:'#222', fill:'#f4a8a0', med:'#e03030', w:10}, {stroke:'#222', fill:'#f4a8a0', med:'#e03030', w:10}], boxMMean);
catLabels(gMb, treatCatsBox, 6);
star(gMb, 1, 4.2, '*'); star(gMb, 2, 3.4, '*');

const chart = echarts.init(document.getElementById('chart'), null, {renderer:'canvas', width:675, height:1110});
chart.setOption({animation:false, backgroundColor:'#fff', textStyle:{fontFamily:FONT},
  grid:grids, xAxis, yAxis, series, legend, graphic});
</script></body></html>
